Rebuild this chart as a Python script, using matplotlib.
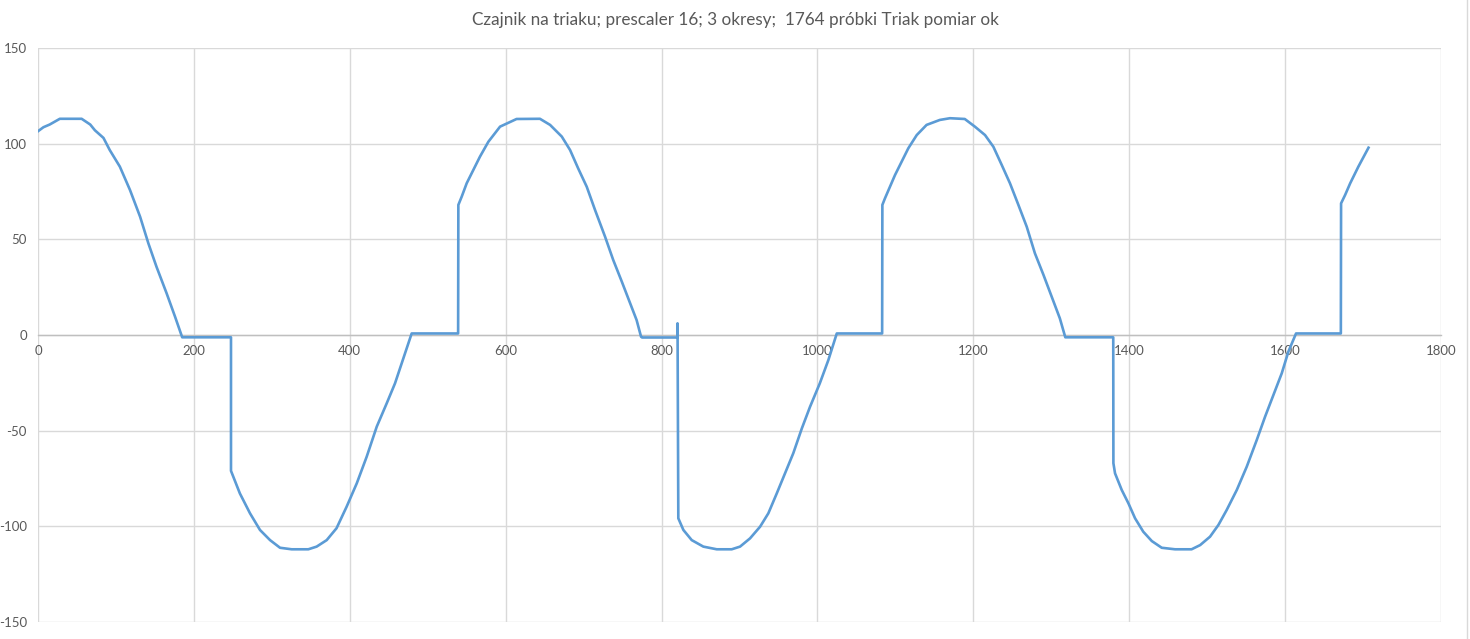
"""Triac kettle waveform: 3 periods, prescaler 16."""

import matplotlib
import matplotlib.pyplot as plt
from matplotlib.lines import Line2D

matplotlib.use("Agg")

# ── Data (vertices) ──────────────────────────────────────────────────────────

SAMPLE_X = [
    0, 7, 15, 28, 56, 67, 73, 84, 92, 105, 118, 131, 141.6, 152, 165, 175.8, 184, 185,
    247.6, 247.6, 259, 272, 284.8, 297.7, 310.5, 325.5, 346.8, 357.5, 370.4, 383, 396,
    409, 421.7, 434.6, 447.4, 458, 468.7, 479.4, 539, 539.3, 543.6, 550, 558.5, 567,
    577.8, 592.8, 614, 644, 657, 672, 682.6, 693, 704, 714.7, 727.5, 738, 749, 759.6,
    768, 773.7, 775, 820.2, 820.5, 821.5, 828, 838.7, 853.6, 870.8, 890, 900.7, 913.5,
    926.4, 937, 947.8, 958.4, 969, 980, 990.5, 1003, 1014, 1024.8, 1083, 1083.3, 1086.7,
    1093, 1099.5, 1108, 1116.6, 1127.4, 1140, 1157, 1170, 1189, 1202, 1215, 1225.7,
    1236.4, 1247, 1257.8, 1268.5, 1279, 1290, 1300.6, 1311, 1318, 1379.5, 1379.7, 1381.8,
    1390.4, 1399, 1407.5, 1418, 1429, 1441.7, 1458.8, 1480, 1491, 1503.7, 1514.4, 1525,
    1538, 1550.8, 1563.6, 1574.3, 1585, 1595.7, 1604.2, 1614, 1671.5, 1671.8, 1677,
    1683.5, 1694, 1707,
]
SAMPLE_Y = [
    106.5, 108.6, 110, 113, 113, 110, 107, 103, 96.7, 88, 75.8, 61.8, 47.9, 35.7, 21.8,
    9.6, 0, -1.2, -1.2, -71, -82.8, -93.2, -101.9, -107.2, -111.2, -112, -112, -110.6,
    -107.2, -101, -89.7, -77.5, -63.6, -47.9, -35.7, -25.3, -12.2, 0.8, 0.8, 68, 72.3,
    79.3, 86.3, 93.2, 101, 108.9, 112.9, 113, 109.8, 103.7, 96.7, 87.1, 77.5, 65.3, 51.4,
    39.2, 27.9, 16.6, 7.8, -0.9, -1.3, -1.3, 6.1, -95.8, -101.9, -107.2, -110.6, -112,
    -112, -110.6, -106.3, -100.2, -93.2, -82.8, -72.3, -61.8, -48.8, -37.5, -25.3, -13.1,
    0.8, 0.8, 68, 71.5, 77.5, 83.6, 90.6, 97.6, 104.5, 109.8, 112.4, 113.3, 112.9, 108.9,
    104.5, 98.4, 88.9, 79.3, 68, 56.6, 42.7, 31.4, 20, 8.7, -1.2, -1.2, -67, -72.3, -81,
    -88, -95.8, -102.8, -107.7, -111.2, -112, -112, -109.8, -105.4, -99.3, -91.5, -81,
    -68.8, -54.9, -42.7, -31.4, -20, -8.7, 0.8, 0.8, 68.8, 73.2, 79.3, 88, 97.9,
]

X_TICKS = [0, 200, 400, 600, 800, 1000, 1200, 1400, 1600, 1800]
Y_TICKS = [-150, -100, -50, 0, 50, 100, 150]
TITLE = "Czajnik na triaku; prescaler 16; 3 okresy;  1764 próbki Triak pomiar ok"

LINE_COLOR = "#5b9bd5"
GRID_COLOR = "#d9d9d9"
TEXT_COLOR = "#595959"

plt.rcParams["font.family"] = ["Lato", "DejaVu Sans"]
plt.rcParams["axes.unicode_minus"] = False

fig = plt.figure(figsize=(14.7, 6.39), dpi=100)
ax = fig.add_axes([38 / 1470, 1 - 622 / 639, (1441 - 38) / 1470, (622 - 48) / 639])

ax.plot(SAMPLE_X, SAMPLE_Y, color=LINE_COLOR, linewidth=1.9)

ax.set_xlim(0, 1800)
ax.set_ylim(-150, 150)
ax.set_xticks(X_TICKS)
ax.set_yticks(Y_TICKS)
ax.grid(True, color=GRID_COLOR, linewidth=1.0)
ax.set_axisbelow(True)

for side in ["top", "right", "left"]:
    ax.spines[side].set_visible(False)
ax.spines["bottom"].set_position(("data", 0))
ax.spines["bottom"].set_color("#bfbfbf")
ax.spines["bottom"].set_linewidth(1.0)
ax.spines["bottom"].set_zorder(1.5)

ax.tick_params(axis="both", length=0, labelsize=9.5, colors=TEXT_COLOR)
ax.tick_params(axis="x", pad=7)
ax.tick_params(axis="y", pad=8)

fig.text(0.5, 1 - 20 / 639, TITLE, ha="center", va="center", fontsize=12.3,
         color=TEXT_COLOR)

# chart-area border on the right edge
fig.add_artist(Line2D([1467 / 1470, 1467 / 1470], [0, 1], transform=fig.transFigure,
                      color=GRID_COLOR, linewidth=1.0))

fig.savefig("out.png", dpi=100)
plt.close(fig)
